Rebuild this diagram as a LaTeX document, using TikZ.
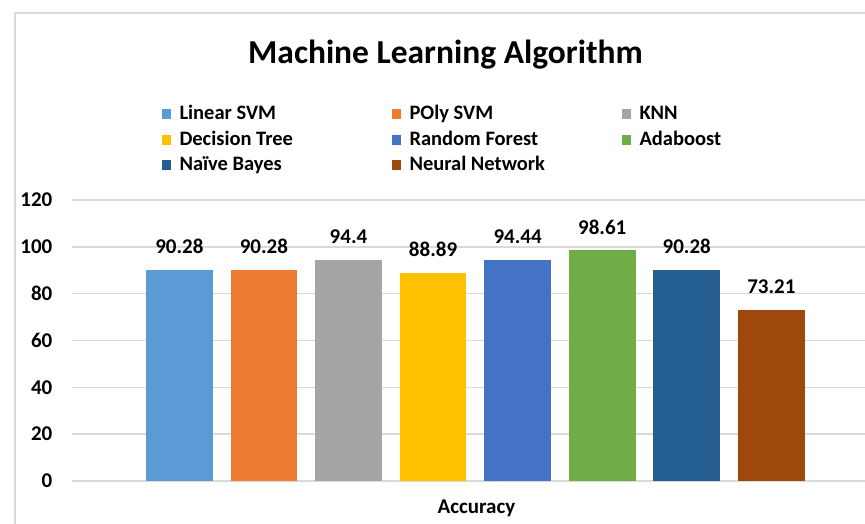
\documentclass[tikz,border=0pt]{standalone}
\usepackage{fontspec}
\setmainfont{Carlito}
\usetikzlibrary{positioning}

\definecolor{gridgray}{HTML}{D9D9D9}
\definecolor{linsvm}{HTML}{5B9BD5}
\definecolor{polysvm}{HTML}{ED7D31}
\definecolor{knn}{HTML}{A5A5A5}
\definecolor{dtree}{HTML}{FFC000}
\definecolor{rforest}{HTML}{4472C4}
\definecolor{adaboost}{HTML}{70AD47}
\definecolor{nbayes}{HTML}{255E91}
\definecolor{nnet}{HTML}{9E480E}

\begin{document}
\begin{tikzpicture}[x=1pt,y=-1pt]
\tikzstyle{grid}=[draw=gridgray,line width=1.5pt]
\tikzstyle{lbl}=[font=\bfseries\fontsize{21}{25}\selectfont,inner sep=0pt,outer sep=0pt]
\tikzstyle{leglbl}=[font=\bfseries\fontsize{20.5}{24}\selectfont,inner sep=0pt,outer sep=0pt]
\tikzstyle{bar}=[draw=none,inner sep=0pt,outer sep=0pt,minimum width=66.7pt,anchor=south]
\tikzstyle{key}=[draw=none,inner sep=0pt,outer sep=0pt,minimum width=8.5pt,minimum height=10pt]
\useasboundingbox (0,0) rectangle (865,524);
% frame and title
\draw[draw=gridgray,line width=2pt] (15,13.5) rectangle (890,560);
\node[inner sep=0pt,font=\bfseries\fontsize{33.5}{40}\selectfont,anchor=base] (title) at (445.5,64) {Machine Learning Algorithm};
% legend
\foreach \x/\y/\col/\txt in {
	162/114/linsvm/Linear SVM,
	392/114/polysvm/POly SVM,
	622/114/knn/KNN,
	162/140/dtree/Decision Tree,
	392/140/rforest/Random Forest,
	622/140/adaboost/Adaboost,
	162/165/nbayes/Naïve Bayes,
	392/165/nnet/Neural Network}
{
	\node[key,fill=\col,anchor=west] (k\col) at (\x,\y) {};
	\node[leglbl,anchor=base west] (t\col) at ([xshift=9pt,yshift=-6pt]k\col.east) {\txt};
}
% gridlines and y axis
\foreach \v in {0,20,...,120}
{
	\draw[grid] (72,{481-\v*2.3417}) -- (890,{481-\v*2.3417});
	\node[lbl,anchor=east] (y\v) at (52.3,{481-\v*2.3417}) {\v};
}
% bars with values
\foreach \i/\name/\val in {
	0/linsvm/90.28,
	1/polysvm/90.28,
	2/knn/94.4,
	3/dtree/88.89,
	4/rforest/94.44,
	5/adaboost/98.61,
	6/nbayes/90.28,
	7/nnet/73.21}
{
	\node[bar,fill=\name,minimum height=\val*2.3417] (b\name) at ({179.35+\i*84.57},481) {};
	\node[lbl,anchor=base] (v\name) at ([yshift=16pt]b\name.north) {\val};
}
\node[lbl,anchor=base] (xlab) at (476.5,513) {Accuracy};
\end{tikzpicture}
\end{document}
